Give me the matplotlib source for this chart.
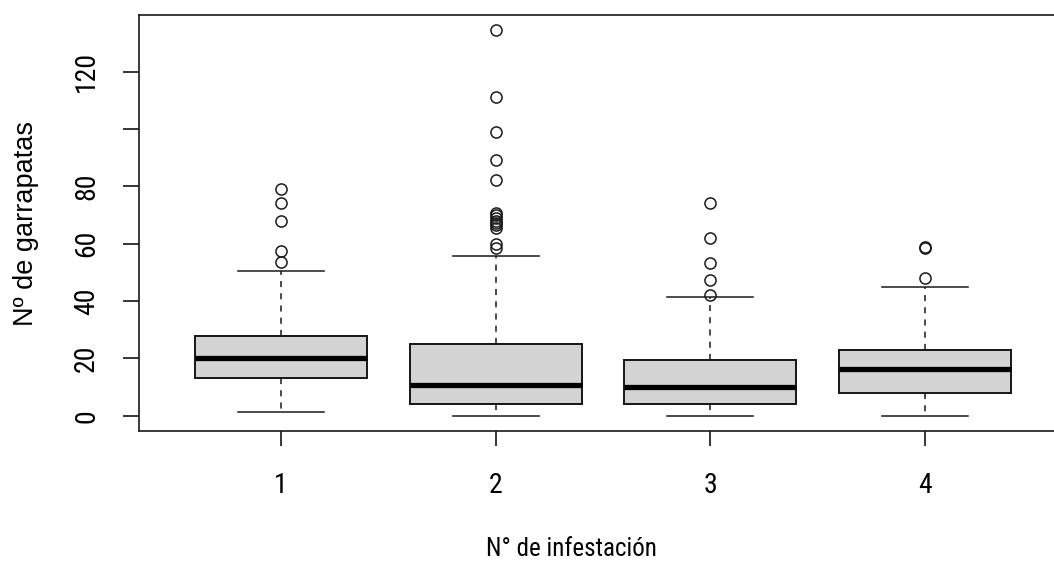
import matplotlib.pyplot as plt

# === DATA ===
groups = ["1", "2", "3", "4"]
q1 = [13.3, 4.1, 4.1, 7.8]
medians = [20.0, 10.8, 10.2, 16.3]
q3 = [27.9, 24.9, 19.4, 22.9]
whisker_low = [1.2, 0.0, 0.0, 0.0]
whisker_high = [50.3, 55.8, 41.3, 45.0]
outliers = [
    [53.5, 57.5, 68.0, 74.2, 79.1],
    [58.5, 60.0, 65.5, 66.5, 67.2, 68.0, 69.0, 70.0, 70.7, 82.1, 89.2, 99.0, 111.0, 134.3],
    [42.0, 47.3, 53.4, 61.9, 74.1],
    [47.9, 58.4, 58.8],
]
y_ticks = [0, 20, 40, 60, 80, 100, 120]
y_tick_labels = ["0", "20", "40", "60", "80", "", "120"]

plt.rcParams["font.family"] = ["Liberation Sans", "DejaVu Sans"]
# the reference's tick labels and x label are set in a narrow face
narrow = ["Liberation Sans Narrow", "Roboto Condensed", "Archivo Narrow", "Liberation Sans"]

stats = []
for i, g in enumerate(groups):
    stats.append({
        "label": g,
        "q1": q1[i], "med": medians[i], "q3": q3[i],
        "whislo": whisker_low[i], "whishi": whisker_high[i],
        "fliers": outliers[i],
    })

fig = plt.figure(figsize=(10.54, 5.62), dpi=100)
ax = fig.add_axes([139 / 1054, 131 / 562, 928 / 1054, 416 / 562])

lw = 1.1
ax.bxp(
    stats,
    positions=range(1, len(groups) + 1),
    widths=0.8,
    patch_artist=True,
    boxprops=dict(facecolor="#d3d3d3", edgecolor="#1a1a1a", linewidth=lw * 1.3),
    medianprops=dict(color="black", linewidth=3.8, solid_capstyle="butt"),
    whiskerprops=dict(color="#1a1a1a", linewidth=lw, linestyle=(0, (4, 4))),
    capprops=dict(color="#1a1a1a", linewidth=lw),
    capwidths=0.4,
    flierprops=dict(marker="o", markerfacecolor="none", markeredgecolor="#1a1a1a",
                    markersize=8.0, markeredgewidth=lw),
)

ax.set_xlim(0.34, 4.66)
ax.set_ylim(-5.3, 139.7)
ax.set_yticks(y_ticks)
ax.set_yticklabels(y_tick_labels, rotation=90, va="center", family=narrow)
ax.set_xticks(range(1, len(groups) + 1))
ax.set_xticklabels(groups, family=narrow)

for side in ["left", "bottom", "top", "right"]:
    ax.spines[side].set_linewidth(1.2)
    ax.spines[side].set_color("#1a1a1a")

ax.tick_params(axis="y", length=11.5, width=1.1, pad=16.5, labelsize=20)
ax.tick_params(axis="x", length=11, width=1.1, pad=18.5, labelsize=20)

ax.set_ylabel("Nº de garrapatas", fontsize=19.5)
ax.yaxis.set_label_coords(-0.108, 0.5)
ax.set_xlabel("N° de infestación", fontsize=18, family=narrow)
ax.xaxis.set_label_coords(0.466, -0.255)

fig.savefig("out.png", dpi=100)
